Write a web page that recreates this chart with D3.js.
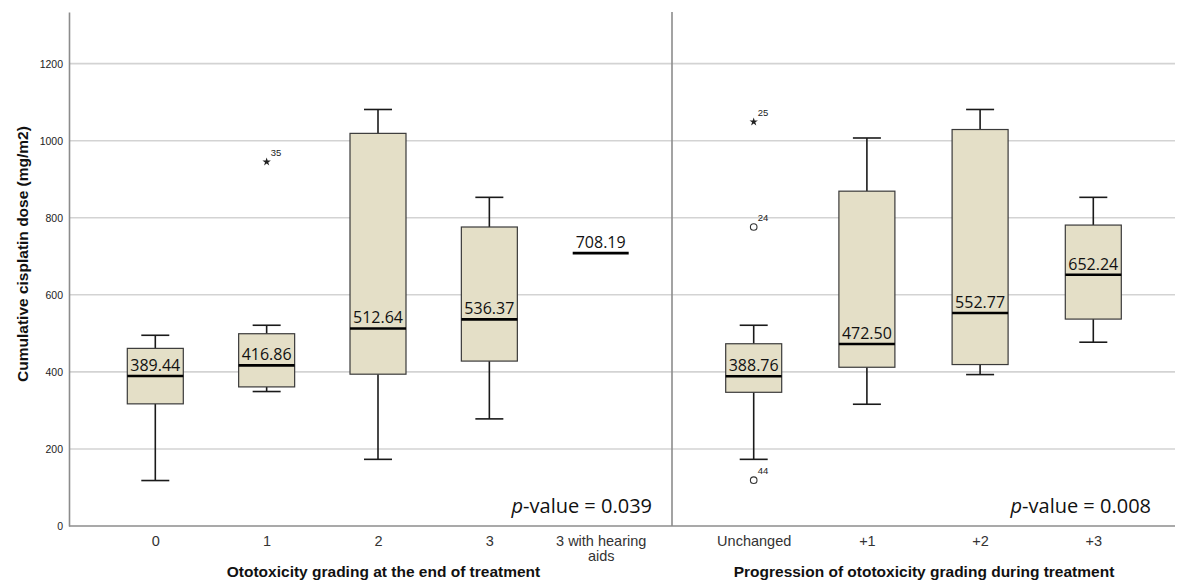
<!DOCTYPE html>
<html><head><meta charset="utf-8">
<script src="https://cdn.jsdelivr.net/npm/d3@7"></script>
<style>html,body{margin:0;padding:0;background:#fff;}</style>
</head><body>
<svg id="chart" width="1180" height="583"></svg>
<script>
// ---- data ----
const leftCategories = ["0", "1", "2", "3", "3 with hearing aids"];
const leftWhiskerLow  = [118, 349, 173, 278, 708.19];
const leftQ1          = [317, 361, 394, 428, 708.19];
const leftMedian      = [389.44, 416.86, 512.64, 536.37, 708.19];
const leftQ3          = [461, 499, 1019, 776, 708.19];
const leftWhiskerHigh = [495, 521, 1081, 853, 708.19];
const leftMedianLabels = ["389.44", "416.86", "512.64", "536.37", "708.19"];

const rightCategories = ["Unchanged", "+1", "+2", "+3"];
const rightWhiskerLow  = [173, 316, 393, 477];
const rightQ1          = [347, 412, 419, 537];
const rightMedian      = [388.76, 472.50, 552.77, 652.24];
const rightQ3          = [473, 869, 1029, 781];
const rightWhiskerHigh = [521, 1007, 1081, 853];
const rightMedianLabels = ["388.76", "472.50", "552.77", "652.24"];

const leftOutlierCats   = ["1"];
const leftOutlierValues = [945];
const leftOutlierIds    = ["35"];
const leftOutlierTypes  = ["extreme"];

const rightOutlierCats   = ["Unchanged", "Unchanged", "Unchanged"];
const rightOutlierValues = [1049, 776, 119];
const rightOutlierIds    = ["25", "24", "44"];
const rightOutlierTypes  = ["extreme", "outlier", "outlier"];

const yTicks = [0, 200, 400, 600, 800, 1000, 1200];
const pValues = ["0.039", "0.008"];
const xTitles = ["Ototoxicity grading at the end of treatment", "Progression of ototoxicity grading during treatment"];
const yTitle = "Cumulative cisplatin dose (mg/m2)";

// ---- layout ----
const svg = d3.select("#chart");
const axisX = 69, divX = 672, rightEnd = 1175, plotTop = 12, plotBottom = 526;
const y = d3.scaleLinear().domain([0, 1334]).range([plotBottom, plotTop]);
const xL = d3.scalePoint().domain(leftCategories).range([155.3, 600.7]);
const xR = d3.scalePoint().domain(rightCategories).range([753.7, 1093.3]);
const boxW = 56, capW = 28;

// gridlines
svg.append("g").selectAll("line").data(yTicks.filter(d => d > 0)).join("line")
  .attr("x1", axisX).attr("x2", rightEnd)
  .attr("y1", d => y(d)).attr("y2", d => y(d))
  .attr("stroke", "#d3d3d3").attr("stroke-width", 1.6);

// y axis
const yAxis = d3.axisLeft(y).tickValues(yTicks).tickFormat(d3.format("d")).tickSize(0).tickPadding(6);
const gy = svg.append("g").attr("transform", `translate(${axisX},0)`).call(yAxis);
gy.select(".domain").attr("stroke", "#8c8c8c").attr("stroke-width", 1.6);
gy.selectAll("text").attr("font-family", "Arial, 'Liberation Sans', sans-serif")
  .attr("font-size", 10.5).attr("fill", "#222");

// bottom axes
function bottomAxis(scale, x0, x1) {
  const g = svg.append("g").attr("transform", `translate(0,${plotBottom})`)
    .call(d3.axisBottom(scale).tickSize(0).tickPadding(10));
  g.select(".domain").remove();
  g.append("line").attr("x1", x0).attr("x2", x1).attr("y1", 0).attr("y2", 0)
    .attr("stroke", "#8c8c8c").attr("stroke-width", 1.6);
  g.selectAll(".tick text").attr("font-family", "Arial, 'Liberation Sans', sans-serif")
    .attr("font-size", 14.5).attr("fill", "#333");
  return g;
}
const gxL = bottomAxis(xL, axisX, divX);
const gxR = bottomAxis(xR, divX, rightEnd);
// wrap "3 with hearing aids" into two lines
gxL.selectAll(".tick text").each(function(d) {
  if (d === "3 with hearing aids") {
    const t = d3.select(this); t.text(null);
    t.append("tspan").attr("x", 0).attr("dy", "0.71em").text("3 with hearing");
    t.append("tspan").attr("x", 0).attr("dy", "1.0em").text("aids");
    t.attr("dy", null);
  }
});

// divider
svg.append("line").attr("x1", divX).attr("x2", divX).attr("y1", plotTop).attr("y2", plotBottom)
  .attr("stroke", "#8c8c8c").attr("stroke-width", 1.6);

// boxes
function drawBoxes(cats, scale, lo, q1, med, q3, hi, labels) {
  const data = cats.map((c, i) => ({c, lo: lo[i], q1: q1[i], med: med[i], q3: q3[i], hi: hi[i], lab: labels[i]}));
  const g = svg.append("g");
  data.forEach(d => {
    const cx = scale(d.c);
    const gg = g.append("g");
    if (d.q3 > d.q1) {
      gg.append("line").attr("x1", cx).attr("x2", cx).attr("y1", y(d.hi)).attr("y2", y(d.q3))
        .attr("stroke", "#1a1a1a").attr("stroke-width", 1.6);
      gg.append("line").attr("x1", cx).attr("x2", cx).attr("y1", y(d.q1)).attr("y2", y(d.lo))
        .attr("stroke", "#1a1a1a").attr("stroke-width", 1.6);
      [d.hi, d.lo].forEach(v => gg.append("line").attr("x1", cx - capW/2).attr("x2", cx + capW/2)
        .attr("y1", y(v)).attr("y2", y(v)).attr("stroke", "#1a1a1a").attr("stroke-width", 1.6));
      gg.append("rect").attr("x", cx - boxW/2).attr("width", boxW)
        .attr("y", y(d.q3)).attr("height", y(d.q1) - y(d.q3))
        .attr("fill", "#e4dfc7").attr("stroke", "#3a3a3a").attr("stroke-width", 1.2);
    }
    gg.append("line").attr("x1", cx - boxW/2).attr("x2", cx + boxW/2)
      .attr("y1", y(d.med)).attr("y2", y(d.med)).attr("stroke", "#000").attr("stroke-width", 2.6);
    gg.append("text").attr("x", cx).attr("y", y(d.med) - 5).attr("text-anchor", "middle")
      .attr("font-family", "'Open Sans', sans-serif").attr("font-size", 16).attr("fill", "#111")
      .text(d.lab);
  });
}
drawBoxes(leftCategories, xL, leftWhiskerLow, leftQ1, leftMedian, leftQ3, leftWhiskerHigh, leftMedianLabels);
drawBoxes(rightCategories, xR, rightWhiskerLow, rightQ1, rightMedian, rightQ3, rightWhiskerHigh, rightMedianLabels);

// outliers
function drawOutliers(cats, vals, ids, types, scale) {
  cats.forEach((c, i) => {
    const cx = scale(c), cy = y(vals[i]);
    if (types[i] === "extreme") {
      svg.append("path").attr("d", d3.symbol(d3.symbolStar, 22)())
        .attr("transform", `translate(${cx},${cy})`).attr("fill", "#222");
    } else {
      svg.append("circle").attr("cx", cx).attr("cy", cy).attr("r", 3.3)
        .attr("fill", "#fff").attr("stroke", "#333").attr("stroke-width", 1.1);
    }
    svg.append("text").attr("x", cx + 4).attr("y", cy - 6)
      .attr("font-family", "Arial, 'Liberation Sans', sans-serif").attr("font-size", 9.5)
      .attr("fill", "#222").text(ids[i]);
  });
}
drawOutliers(leftOutlierCats, leftOutlierValues, leftOutlierIds, leftOutlierTypes, xL);
drawOutliers(rightOutlierCats, rightOutlierValues, rightOutlierIds, rightOutlierTypes, xR);

// p-values
[[652, pValues[0]], [1151, pValues[1]]].forEach(([x, p]) => {
  const t = svg.append("text").attr("x", x).attr("y", 513).attr("text-anchor", "end")
    .attr("font-family", "'Open Sans', sans-serif").attr("font-size", 20).attr("fill", "#111");
  t.append("tspan").attr("font-style", "italic").text("p");
  t.append("tspan").text("-value = " + p);
});

// axis titles
[[383.5, xTitles[0]], [924, xTitles[1]]].forEach(([x, s]) => {
  svg.append("text").attr("x", x).attr("y", 576.5).attr("text-anchor", "middle")
    .attr("font-family", "Arial, 'Liberation Sans', sans-serif").attr("font-weight", "bold")
    .attr("font-size", 15.5).attr("fill", "#111").text(s);
});
svg.append("text").attr("transform", "translate(28,254) rotate(-90)").attr("text-anchor", "middle")
  .attr("font-family", "Arial, 'Liberation Sans', sans-serif").attr("font-weight", "bold")
  .attr("font-size", 15.5).attr("fill", "#111").text(yTitle);
</script>
</body></html>
